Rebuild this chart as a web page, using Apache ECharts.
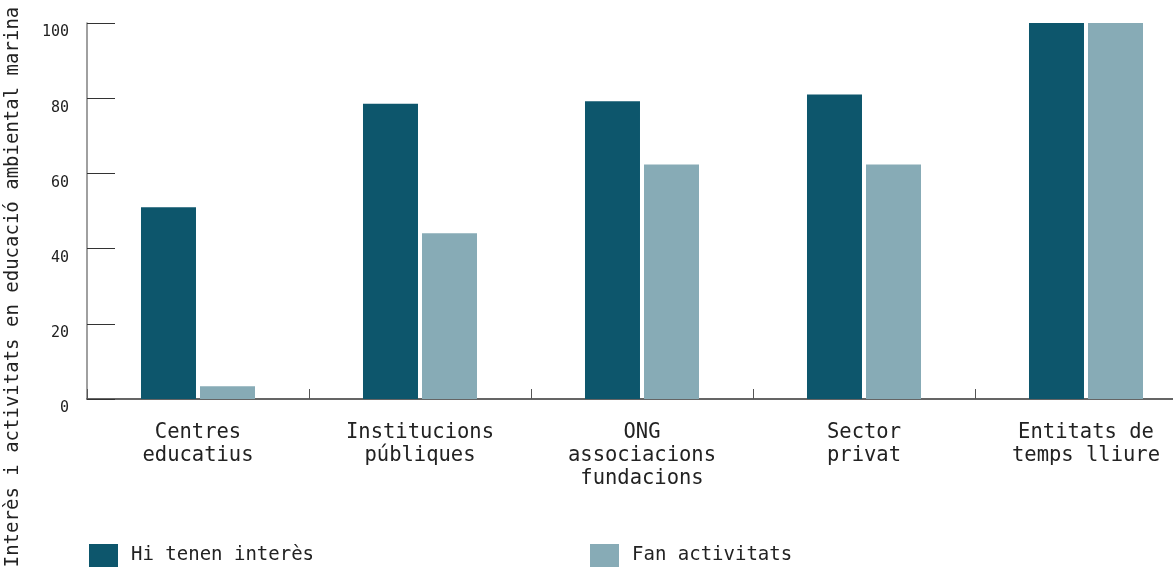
<!DOCTYPE html>
<html>
<head>
<meta charset="utf-8">
<script src="https://cdn.jsdelivr.net/npm/echarts@6/dist/echarts.min.js"></script>
<style>
html,body{margin:0;padding:0;background:#fff;overflow:hidden;width:1173px;height:569px;}
#chart{width:1197px;height:569px;}
</style>
</head>
<body>
<div id="chart"></div>
<script>
const categories = ['Centres\neducatius', 'Institucions\npúbliques', 'ONG\nassociacions\nfundacions', 'Sector\nprivat', 'Entitats de\ntemps lliure'];
const interestValues = [51, 78.5, 79.2, 81, 100];
const activityValues = [3.4, 44.1, 62.4, 62.4, 100];
const yTicks = [0, 20, 40, 60, 80, 100];
const seriesNames = ['Hi tenen interès', 'Fan activitats'];
const yAxisTitle = 'Interès i activitats en educació ambiental marina';

const FONT = '"DejaVu Sans Mono", "Liberation Mono", monospace';
const DARK = '#0d566c';
const LIGHT = '#87abb6';

const chart = echarts.init(document.getElementById('chart'), null, {renderer: 'canvas'});
chart.setOption({
  animation: false,
  backgroundColor: '#ffffff',
  grid: {left: 87, top: 23, width: 1110, height: 376},
  legend: [
    {
      data: [seriesNames[0]], left: 89, top: 544, itemWidth: 29, itemHeight: 23, padding: 0,
      icon: 'rect', selectedMode: false,
      textStyle: {fontFamily: FONT, fontSize: 19, color: '#222', padding: [5, 0, 0, 8]}
    },
    {
      data: [seriesNames[1]], left: 590, top: 544, itemWidth: 29, itemHeight: 23, padding: 0,
      icon: 'rect', selectedMode: false,
      textStyle: {fontFamily: FONT, fontSize: 19, color: '#222', padding: [5, 0, 0, 8]}
    }
  ],
  graphic: [{
    type: 'text',
    x: 13, y: 287,
    rotation: Math.PI / 2,
    style: {
      text: yAxisTitle,
      fontFamily: FONT, fontSize: 19, fill: '#222',
      align: 'center', verticalAlign: 'middle'
    }
  }],
  xAxis: {
    type: 'category',
    data: categories,
    axisLine: {lineStyle: {color: '#333', width: 1.5}},
    axisTick: {show: true, inside: true, length: 10, lineStyle: {color: '#555'}},
    axisLabel: {
      fontFamily: FONT, fontSize: 20.5, color: '#222', lineHeight: 23,
      margin: 22, interval: 0
    },
    splitLine: {show: false}
  },
  yAxis: {
    type: 'value',
    min: 0, max: 100, interval: 20,
    axisLine: {show: true, lineStyle: {color: '#808080', width: 1.5}},
    axisTick: {show: true, inside: true, length: 28, lineStyle: {color: '#333'}},
    axisLabel: {
      fontFamily: FONT, fontSize: 15, color: '#222', margin: 18,
      verticalAlign: 'top', padding: [2, 0, 0, 0],
      formatter: function (v) { return yTicks.indexOf(v) >= 0 ? String(v) : ''; }
    },
    splitLine: {show: false}
  },
  series: [
    {
      name: seriesNames[0], type: 'bar', data: interestValues,
      barWidth: 55, barGap: '7.3%',
      itemStyle: {color: DARK}
    },
    {
      name: seriesNames[1], type: 'bar', data: activityValues,
      barWidth: 55, barGap: '7.3%',
      itemStyle: {color: LIGHT}
    }
  ]
});
</script>
</body>
</html>
